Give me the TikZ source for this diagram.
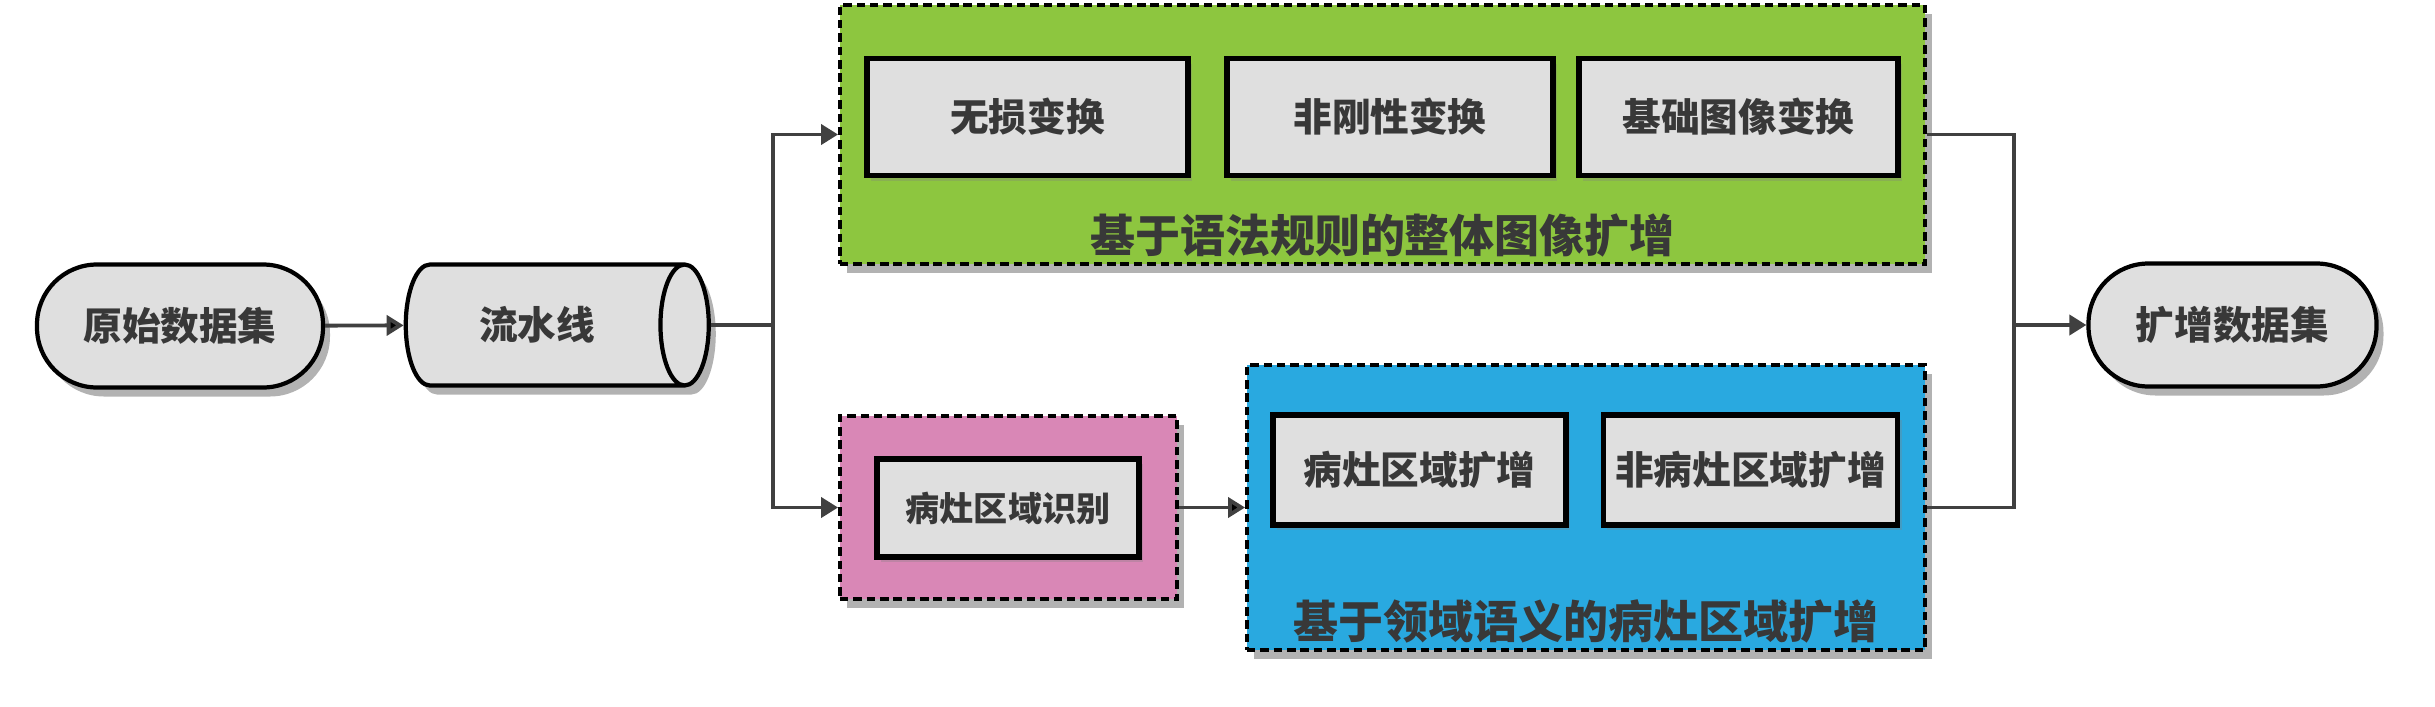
\documentclass[tikz,border=0pt]{standalone}
\usepackage{fontspec}
\setmainfont{Noto Sans CJK SC}
\usepackage{xcolor}
\usepackage{tikz}
\usetikzlibrary{shadows}
\usetikzlibrary{arrows.meta}
\usetikzlibrary{positioning}
\usetikzlibrary{shapes}

\definecolor{boxgray}{HTML}{DFDFDF}
\definecolor{txtgray}{HTML}{383838}
\definecolor{linegray}{HTML}{404040}
\definecolor{grnfill}{HTML}{8DC63F}
\definecolor{blufill}{HTML}{29A9E0}
\definecolor{pnkfill}{HTML}{D987B6}

\tikzset{
  shade/.style={drop shadow={shadow xshift=0.07cm, shadow yshift=-0.09cm, fill=black, opacity=0.3}},
  conn/.style={draw=linegray, line width=1.1pt},
  arrow/.style={conn, -{Triangle[length=0.17cm, width=0.2cm]}}
}

\begin{document}
\begin{tikzpicture}[text=txtgray]
    \useasboundingbox (0,0) rectangle (24.35,7.06);
    % dashed containers
    \begin{scope}[every node/.style={draw=black, line width=1.1pt, dash pattern=on 2.4pt off 1.4pt, shade, inner sep=0}]
      \node (grn)[fill=grnfill, minimum width=10.85cm, minimum height=2.59cm] at (13.825,5.715) {};
      \node (pnk)[fill=pnkfill, minimum width=3.37cm, minimum height=1.83cm] at (10.085,1.985) {};
      \node (blu)[fill=blufill, minimum width=6.78cm, minimum height=2.85cm] at (15.86,1.985) {};
    \end{scope}
    \node (t1) [above=-0.04cm of grn.south, font=\fontsize{12.8}{14}\selectfont\bfseries] {基于语法规则的整体图像扩增};
    \node (t2) [above=-0.04cm of blu.south, font=\fontsize{12.8}{14}\selectfont\bfseries] {基于领域语义的病灶区域扩增};
    % gray boxes
    \begin{scope}[every node/.style={draw=black, line width=1.5pt, fill=boxgray, minimum height=1.17cm,
        font=\fontsize{11}{13}\selectfont\bfseries, drop shadow={shadow xshift=0.04cm, shadow yshift=-0.05cm, opacity=0.3}}]
      \node (a)[minimum width=3.21cm] at (10.275,5.89) {无损变换};
      \node (b)[minimum width=3.26cm] at (13.90,5.89) {非刚性变换};
      \node (c)[minimum width=3.19cm] at (17.385,5.89) {基础图像变换};
      \node (d)[minimum width=2.62cm, minimum height=0.98cm, font=\fontsize{9.7}{11}\selectfont\bfseries] at (10.08,1.98) {病灶区域识别};
      \node (e)[minimum width=2.93cm, minimum height=1.10cm] at (14.195,2.36) {病灶区域扩增};
      \node (f)[minimum width=2.93cm, minimum height=1.10cm] at (17.505,2.36) {非病灶区域扩增};
    \end{scope}
    % data nodes
    \begin{scope}[every node/.style={draw=black, line width=1.2pt, fill=boxgray, shade,
        font=\fontsize{11}{13}\selectfont\bfseries}]
      \node (src)[rounded corners=0.6cm, minimum width=2.86cm, minimum height=1.23cm] at (1.80,3.80) {原始数据集};
      \node (pipe)[cylinder, shape aspect=0.8, minimum width=1.21cm, minimum height=3.03cm] at (5.37,3.81) {流水线};
      \node (dst)[rounded corners=0.6cm, minimum width=2.88cm, minimum height=1.23cm] at (22.325,3.81) {扩增数据集};
    \end{scope}
    \coordinate (split) at (7.73,3.81);
    \coordinate (merge) at (20.14,3.81);
    \path[arrow] (src) edge (pipe);
    \draw[conn] (pipe.east) -- (split);
    \draw[arrow] (split) |- (grn.west);
    \draw[arrow] (split) |- (pnk.west);
    \path[arrow] (pnk) edge (blu);
    \draw[conn] (grn.east) -| (merge);
    \draw[conn] (blu.east) -| (merge);
    \draw[arrow] (merge) -- (dst.west);
\end{tikzpicture}
\end{document}
